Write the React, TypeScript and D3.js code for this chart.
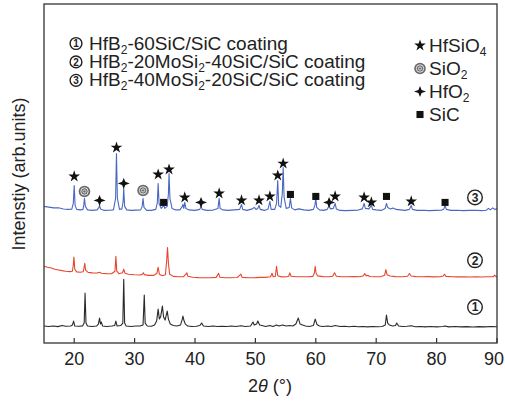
import React from "react";
import * as d3 from "d3";

const W = 505;
const H = 404;

const X_TICKS = [20, 30, 40, 50, 60, 70, 80, 90];

// Sample 1: HfB2-60SiC/SiC (black)
const TRACE_1: [number, number][] = [
  [15, 17], [15.8, 16.5], [16.5, 17], [17.3, 16.4], [18, 17.5], [18.6, 16.8], [19.4, 17], [19.7, 18], [19.9, 22], [20.1, 17],
  [20.8, 16.8], [21.4, 17.2], [21.65, 20], [21.8, 50], [21.95, 20], [22.2, 17], [23, 16.5], [23.7, 17], [24.0, 19], [24.2, 25],
  [24.35, 19], [24.5, 21], [24.7, 17], [25.4, 16.5], [26.2, 17], [26.7, 17.5], [26.9, 22], [27.1, 17], [27.7, 17.5], [28.05, 20],
  [28.2, 64], [28.35, 20], [28.6, 17], [29.4, 16.5], [30.2, 17], [30.9, 17], [31.4, 18], [31.6, 48], [31.75, 20], [32.1, 17],
  [32.8, 16.8], [33.3, 18], [33.65, 22], [33.9, 34], [34.1, 24], [34.3, 26], [34.6, 37], [34.8, 26], [35.05, 23], [35.4, 32],
  [35.6, 24], [35.9, 19], [36.4, 17.5], [37.0, 17], [37.6, 18], [37.9, 24], [38.0, 27], [38.2, 22], [38.4, 19], [38.8, 17],
  [39.5, 16.5], [40.2, 16.8], [40.8, 17.5], [41.1, 20], [41.4, 17], [42.2, 16.5], [43, 17], [43.7, 16.5], [44.5, 16.8], [45.3, 16.5],
  [46, 17], [46.8, 16.5], [47.6, 17.3], [48.3, 16.5], [49.2, 17], [49.6, 21], [49.8, 18], [50.2, 19], [50.4, 22], [50.7, 18],
  [51.1, 17.5], [51.7, 16.5], [52.4, 17.5], [52.9, 16.5], [53.5, 18], [53.9, 17], [54.5, 18], [55.1, 17], [55.7, 17.5], [56.2, 17],
  [56.7, 19], [57.1, 25], [57.4, 19], [57.8, 18], [58.3, 17], [58.9, 16.5], [59.6, 17.5], [59.9, 24], [60.2, 18.5], [60.6, 17],
  [61.2, 16.5], [62, 17], [62.6, 16.5], [63.2, 17.5], [64, 16.5], [64.8, 16.8], [65.5, 16.3], [66.3, 16.8], [67, 16.3], [67.8, 16.6],
  [68.6, 16.2], [69.4, 16.6], [70.2, 16.3], [71, 16.5], [71.5, 18], [71.7, 28], [71.9, 20], [72.2, 18], [72.7, 17], [73.2, 17.5],
  [73.4, 20], [73.7, 17], [74.4, 16.5], [75.1, 16.8], [75.8, 17.3], [76.5, 16.3], [77.3, 16.6], [78.1, 16.2], [79, 16.5], [80, 16.2],
  [81, 16.6], [81.4, 17], [82, 16.2], [83, 16.5], [84, 16.2], [85, 16.4], [86, 16.1], [87, 16.4], [88, 16.2], [89, 16.6], [90, 16.3],
];

// Sample 2: HfB2-20MoSi2-40SiC/SiC (red)
const TRACE_2: [number, number][] = [
  [15, 77], [15.6, 76], [16.2, 75.2], [16.8, 74], [17.4, 73.3], [18, 72.6], [18.6, 72], [19.3, 71.6], [19.7, 72], [19.85, 78],
  [19.95, 86.3], [20.1, 74], [20.4, 71.3], [21.0, 71], [21.5, 71.5], [21.65, 76], [21.75, 80], [21.9, 73], [22.3, 70.8], [23, 70.3],
  [23.8, 70.2], [24.2, 71], [24.5, 70], [25.3, 69.6], [26.2, 69.4], [26.75, 72], [26.9, 87], [27.05, 72], [27.4, 69.5], [28.0, 70.5],
  [28.2, 74], [28.4, 70], [29, 69], [30, 68.5], [30.9, 68.2], [31.3, 69], [31.45, 70.5], [31.6, 68.6], [32.3, 67.8], [33.2, 67.8],
  [33.7, 70], [33.9, 76], [34.1, 69], [34.6, 67.5], [35.1, 68.5], [35.3, 82], [35.45, 95.7], [35.6, 80], [35.8, 69], [36.4, 66.8],
  [37.2, 66.5], [38.1, 66.5], [38.5, 69], [38.65, 70.5], [38.8, 67], [39.6, 66], [40.6, 65.6], [41.5, 65.5], [42.5, 65.5], [43.5, 65.8],
  [43.9, 70], [44.1, 66], [45, 65.4], [46, 65.5], [47, 65.7], [47.6, 69], [47.8, 65.8], [48.8, 65.5], [50, 65.6], [50.8, 65.8],
  [51.6, 65.8], [52.5, 66.5], [52.75, 70], [52.95, 66.5], [53.3, 67], [53.5, 77], [53.7, 67.5], [54.3, 66.3], [55.2, 66.4], [55.5, 67],
  [55.7, 70.3], [55.9, 67], [56.8, 66.4], [57.8, 66.5], [58.8, 66.4], [59.5, 66.8], [59.75, 70], [59.9, 77], [60.05, 70], [60.3, 67.3],
  [61.2, 66.6], [62.2, 66.5], [62.8, 67], [63.1, 70.5], [63.4, 67], [64.3, 66.5], [65.3, 66.4], [66.3, 66.6], [67.3, 66.4], [67.9, 67.5],
  [68.1, 69.7], [68.35, 67.2], [68.6, 68], [68.9, 66.7], [69.8, 66.4], [70.8, 66.6], [71.4, 68], [71.6, 73.7], [71.8, 68.5], [72.3, 67.2],
  [73.2, 66.6], [74.3, 66.5], [75.2, 67], [75.5, 69.7], [75.8, 67.2], [76.6, 66.6], [77.6, 66.4], [78.6, 66.6], [79.6, 66.3], [80.6, 66.5],
  [81.1, 67.2], [81.3, 69], [81.55, 66.8], [82.5, 66.4], [83.5, 66.3], [84.5, 66.5], [85.5, 66.2], [86.5, 66.4], [87.5, 66.2], [88.5, 66.4],
  [89.4, 66.6], [89.6, 68], [89.8, 66.7], [90, 66.6],
];

// Sample 3: HfB2-40MoSi2-20SiC/SiC (blue)
const TRACE_3: [number, number][] = [
  [15, 137], [15.8, 136.3], [16.6, 135.5], [17.4, 135.6], [18.2, 134.4], [19, 134], [19.6, 134.2], [19.85, 140], [20.0, 158], [20.15, 138],
  [20.4, 134], [21.0, 133.5], [21.45, 134], [21.6, 139], [21.7, 145], [21.85, 137], [22.2, 133.5], [23, 133], [23.8, 133.5], [24.1, 136],
  [24.2, 138], [24.35, 134.5], [25, 133], [25.8, 133.2], [26.5, 133.5], [26.85, 145], [27.0, 190], [27.15, 145], [27.5, 134], [27.9, 134.5],
  [28.1, 142], [28.2, 155], [28.35, 137], [28.7, 133.5], [29.5, 133], [30.3, 133.3], [31, 133.5], [31.25, 137], [31.4, 145], [31.55, 136],
  [32, 133], [32.8, 133], [33.5, 134], [33.75, 140], [33.9, 160], [34.05, 140], [34.4, 135], [34.7, 137], [34.85, 138], [35.0, 135],
  [35.4, 137], [35.6, 150], [35.7, 170], [35.85, 145], [36.2, 135], [36.8, 133.5], [37.5, 133.5], [37.9, 137], [38.0, 139], [38.15, 135],
  [38.3, 141], [38.5, 135], [39, 133.5], [40, 133], [40.8, 134], [41.0, 137], [41.2, 134], [42, 133], [43, 133.3], [43.8, 135],
  [44.0, 145], [44.15, 135], [44.6, 133.5], [45.5, 133], [46.5, 133.5], [47.4, 134], [47.7, 139], [47.9, 134], [48.6, 133], [49.5, 134.5],
  [49.8, 136], [50.1, 134], [50.4, 135], [50.6, 138], [50.8, 134], [51.5, 133], [52.1, 134.5], [52.4, 142], [52.6, 134], [53.2, 134],
  [53.5, 140], [53.7, 163], [53.85, 138], [54.2, 136], [54.45, 150], [54.6, 176], [54.75, 146], [55.1, 135], [55.6, 136], [55.8, 145],
  [56.0, 135.5], [56.5, 133.5], [57.2, 134.5], [58, 133.5], [58.8, 133], [59.6, 134], [59.85, 138], [60.0, 145], [60.15, 136], [60.6, 133.5],
  [61.3, 133], [61.9, 134], [62.2, 138], [62.4, 134.5], [62.9, 135], [63.2, 140], [63.4, 134.5], [64, 133], [65, 132.8], [66, 133],
  [67, 133.3], [67.7, 134.5], [68.0, 140], [68.2, 135], [68.8, 134.5], [69.2, 138], [69.4, 134], [70, 133.5], [70.8, 133], [71.5, 135],
  [71.7, 140], [71.9, 136], [72.4, 134.5], [72.8, 135.5], [73.3, 134], [74, 133.5], [74.8, 133], [75.5, 134], [75.8, 138], [76.0, 134],
  [76.8, 133], [77.8, 133.2], [78.8, 132.8], [79.8, 133], [80.8, 133.2], [81.2, 134.5], [81.4, 138], [81.6, 134], [82.4, 133], [83.4, 133.2],
  [84.4, 132.8], [85.4, 133], [86.4, 133.2], [87.4, 132.8], [88.2, 133.2], [88.6, 135], [88.9, 133.5], [89.3, 135.5], [89.6, 134], [90, 134.5],
];

// Phase markers above sample 3 peaks: [phase, 2theta, intensity]
const MARKERS: [string, number, number][] = [
  ["HfSiO4", 20.0, 167], ["SiO2", 21.7, 152], ["HfO2", 24.2, 143], ["HfSiO4", 27.0, 196], ["HfO2", 28.2, 160],
  ["SiO2", 31.4, 153], ["HfSiO4", 33.9, 169], ["SiC", 34.8, 141], ["HfSiO4", 35.7, 174], ["HfSiO4", 38.3, 146],
  ["HfO2", 41.0, 141], ["HfSiO4", 44.0, 150], ["HfSiO4", 47.7, 143], ["HfSiO4", 50.6, 143], ["HfSiO4", 52.4, 147],
  ["HfSiO4", 53.7, 168], ["HfSiO4", 54.6, 180], ["SiC", 55.8, 149], ["SiC", 60.0, 147], ["HfO2", 62.2, 141],
  ["HfSiO4", 63.2, 147], ["HfSiO4", 68.0, 146], ["HfSiO4", 69.2, 141], ["SiC", 71.7, 147], ["HfSiO4", 75.8, 142],
  ["SiC", 81.4, 141],
];

const SERIES_COLORS = ["#2a2a2a", "#e8452f", "#4a68c2"];
const SERIES_LABEL_Y = [36, 83, 146]; // intensity where circled number sits

const LEGEND_MAIN: [string, string, string, string, string][] = [
  ["1", "HfB", "2", "-60SiC/SiC coating", ""],
  ["2", "HfB", "2", "-20MoSi", "2|-40SiC/SiC coating"],
  ["3", "HfB", "2", "-40MoSi", "2|-20SiC/SiC coating"],
];

const PHASES: [string, string, string][] = [
  ["HfSiO4", "HfSiO", "4"],
  ["SiO2", "SiO", "2"],
  ["HfO2", "HfO", "2"],
  ["SiC", "SiC", ""],
];

const FONT = "'Liberation Sans', Arial, Helvetica, sans-serif";

const margin = { left: 44, right: 8, top: 4, bottom: 61 };

function Marker({ type, x, y, s = 1 }: { type: string; x: number; y: number; s?: number }) {
  if (type === "HfSiO4") {
    const p = d3.symbol(d3.symbolStar, 42 * s)() as string;
    return <path d={p} transform={`translate(${x},${y})`} fill="#111" />;
  }
  if (type === "SiC") {
    const p = d3.symbol(d3.symbolSquare, 50 * s)() as string;
    return <path d={p} transform={`translate(${x},${y})`} fill="#111" />;
  }
  if (type === "HfO2") {
    const a = 6, b = 1.6, c = 5.5;
    const p = `M${-a},0 L${-b},${-b} L0,${-c} L${b},${-b} L${a},0 L${b},${b} L0,${c} L${-b},${b} Z`;
    return <path d={p} transform={`translate(${x},${y})`} fill="#111" />;
  }
  return (
    <g transform={`translate(${x},${y})`}>
      <circle r={5.8} fill="#6a6a6a" />
      <circle r={3.7} fill="none" stroke="#e6e6e6" strokeWidth={1} />
      <circle r={1.6} fill="none" stroke="#e6e6e6" strokeWidth={0.9} />
    </g>
  );
}

function Circled({ n, x, y, r, fs }: { n: string; x: number; y: number; r: number; fs: number }) {
  return (
    <g>
      <circle cx={x} cy={y} r={r} fill="#fff" stroke="#222" strokeWidth={1.4} />
      <text x={x} y={y + fs * 0.36} textAnchor="middle" fontSize={fs} fontFamily={FONT} fontWeight="bold" fill="#222">
        {n}
      </text>
    </g>
  );
}

export default function App() {
  const x = d3.scaleLinear().domain([15, 90]).range([margin.left, W - margin.right]);
  const y = d3.scaleLinear().domain([0, 340]).range([H - margin.bottom, margin.top]);
  const line = d3
    .line<[number, number]>()
    .x((d) => x(d[0]))
    .y((d) => y(d[1]));
  const traces = [TRACE_1, TRACE_2, TRACE_3];
  const plotBottom = H - margin.bottom;

  return (
    <svg width={W} height={H} style={{ position: "absolute", left: 0, top: 0, background: "#fff" }}>
      <rect x={0} y={0} width={W} height={H} fill="#fff" />
      {traces.map((t, i) => (
        <path key={i} d={line(t) as string} fill="none" stroke={SERIES_COLORS[i]} strokeWidth={1.1} strokeLinejoin="round" />
      ))}
      {MARKERS.map((m, i) => (
        <Marker key={i} type={m[0]} x={x(m[1])} y={y(m[2])} />
      ))}
      {SERIES_LABEL_Y.map((v, i) => (
        <Circled key={i} n={String(i + 1)} x={475} y={y(v)} r={7.3} fs={12} />
      ))}
      <rect
        x={margin.left}
        y={margin.top}
        width={W - margin.left - margin.right}
        height={plotBottom - margin.top}
        fill="none"
        stroke="#333"
        strokeWidth={1.3}
      />
      {X_TICKS.map((t, i) => (
        <g key={t}>
          <line x1={x(t)} x2={x(t)} y1={plotBottom} y2={plotBottom - 5} stroke="#333" strokeWidth={1.2} />
          <text
            x={i === X_TICKS.length - 1 ? W - 1 : x(t)}
            y={365}
            textAnchor={i === X_TICKS.length - 1 ? "end" : "middle"}
            fontSize={18}
            fontFamily={FONT}
            fill="#222"
          >
            {t}
          </text>
        </g>
      ))}
      <text x={270} y={392} textAnchor="middle" fontSize={18} fontFamily={FONT} fill="#222">
        2<tspan fontStyle="italic">θ</tspan> (°)
      </text>
      <text transform={`translate(24.5,174) rotate(-90)`} textAnchor="middle" fontSize={18} fontFamily={FONT} fill="#222">
        Intenstiy (arb.units)
      </text>
      {LEGEND_MAIN.map((l, i) => {
        const by = 49.5 + i * 18.4;
        const rest = l[4].split("|");
        return (
          <g key={i}>
            <Circled n={l[0]} x={76} y={by - 6} r={5.9} fs={10} />
            <text x={89} y={by} fontSize={19} fontFamily={FONT} fill="#222">
              {l[1]}
              <tspan fontSize={12} dy={4}>{l[2]}</tspan>
              <tspan dy={-4}>{l[3]}</tspan>
              {l[4] ? (
                <>
                  <tspan fontSize={12} dy={4}>{rest[0]}</tspan>
                  <tspan dy={-4}>{rest[1]}</tspan>
                </>
              ) : null}
            </text>
          </g>
        );
      })}
      {PHASES.map((p, i) => {
        const by = 52 + i * 23;
        return (
          <g key={p[0]}>
            <Marker type={p[0]} x={420} y={by - 6.5} />
            <text x={429} y={by} fontSize={19} fontFamily={FONT} fill="#222">
              {p[1]}
              {p[2] ? <tspan fontSize={12} dy={4}>{p[2]}</tspan> : null}
            </text>
          </g>
        );
      })}
    </svg>
  );
}
